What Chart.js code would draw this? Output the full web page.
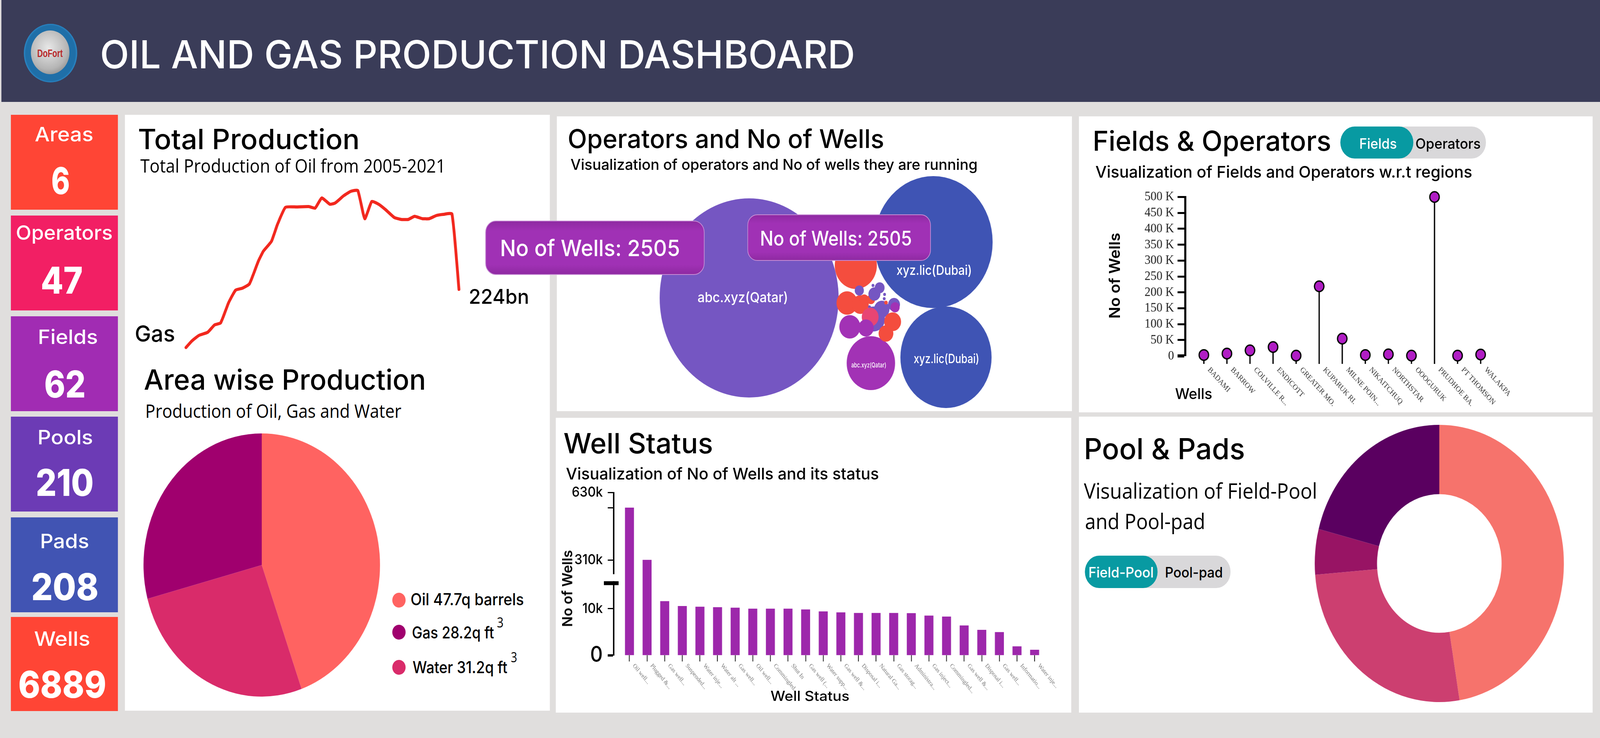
<!DOCTYPE html>
<html><head><meta charset="utf-8"><title>Oil and Gas Production Dashboard</title>
<script src="https://cdn.jsdelivr.net/npm/chart.js@4/dist/chart.umd.js"></script>
<style>
html,body{margin:0;padding:0;background:#e0dedd;width:100%;height:100%;overflow:hidden}
#stage{position:absolute;left:0;top:0;width:4560px;height:1890px;transform-origin:0 0;background:#e0dedd;overflow:hidden}
.box,canvas,.t{position:absolute;display:block}
.t{white-space:pre;line-height:1;transform-origin:0 50%}
</style></head><body><div id="stage"></div>
<script>
// ---------- DATA ----------
const productionYears=[2005,2005.35,2005.76,2006.27,2006.68,2007.03,2007.5,2007.91,2008.31,2008.72,2009.24,2009.54,2010.01,2010.36,2010.83,2011.49,2012.2,2012.57,2012.96,2013.43,2013.74,2014.25,2014.66,2015.07,2015.48,2015.89,2016.29,2016.7,2017.21,2017.62,2018.03,2018.4,2018.85,2019.26,2019.67,2020.08,2020.59,2021];
const productionValues=[75,92,106,114,133,138,190,222,227,238,296,322,347,390,434,435,436,432,458,442,445,464,475,477,405,449,442,428,408,403,403,411,405,405,413,416,417,224];
const areaLabels=['Oil','Water','Gas'];
const areaValues=[47.7,28.2,31.2];
const areaColors=['#ff6361','#d92b6a','#a0006e'];
const bubbleNames=['abc.xyz(Qatar)','xyz.lic(Dubai)','xyz.lic(Dubai)','abc.xyz(Qatar)'];
const bubbleX=[548,1073,1109,895,852,827,865,876,895,862,905,920,901,934,933,926,961,964,938,903,891,893,835,881,957,938];
const bubbleY=[290,433,138,123,373,277,273,286,286,309,300,316,322,299,288,261,273,266,278,236,267,241,216,213,229,199];
const bubbleR=[255,169,130,69,60,30,24,13,12,13,17,14,4,4,4,22,17,13,5,32,4,24,30,22,24,21];
const bubbleGroup=[0,1,1,2,3,3,3,3,3,0,0,0,0,0,0,0,0,2,3,0,0,4,2,2,3,3];
const bubbleColors=['#7556c2','#3f54b4','#a232b5','#f44d3e','#e84573'];
const fieldNames=['BADAMI','BARROW','COLVILLE R...','ENDICOTT','GREATER MO.','KUPARUK RI.','MILNE POIN...','NIKAITCHUQ','NORTHSTAR','OOOGURUK','PRUDHOE BA.','PT THOMSON','WALAKPA'];
const fieldWells=[3000,7500,17500,28000,1000,219000,54500,3000,5000,1000,500000,1000,4500];
const fieldTicks=[0,50000,100000,150000,200000,250000,300000,350000,400000,450000,500000];
const statusNames=['Oil well...','Plugged &...','Gas well...','Suspended...','Water inje...','Water alt ...','Gas well...','Oil well...','Commingled...','Shut In','Gas well (...','Water supp...','Gas well &...','Disposal i...','Natural Ga...','Gas storag...','Administra...','Gas inject...','Commingled...','Gas well &...','Disposal i...','Gas well...','Informatio...','Water inje...'];
const statusWells=[558000,310000,11600,10550,10400,10300,10200,10000,10000,10000,9830,9400,9190,9060,9060,9060,9020,8500,8290,6370,5430,4960,1880,1150];
const statusTicks=[0,10000,310000,558000,630000];
const statusTickLabels=['0','10k','310k','','630k'];
const poolShares=[47.4,26.3,5.3,21.0];
const poolColors=['#f6736c','#cc3f70','#981464','#5a0060'];

// ---------- PAGE HELPERS ----------
const stage=document.getElementById('stage');
stage.style.transform=`scale(${innerWidth/4560},${innerHeight/1890})`;
const SANS='Inter', OPEN='"Open Sans"', SERIF='"Liberation Serif"';
const mctx=document.createElement('canvas').getContext('2d');
function box(l,t,w,h,css){const d=document.createElement('div');d.className='box';
  d.style.cssText=`left:${l}px;top:${t}px;width:${w}px;height:${h}px;${css||''}`;stage.appendChild(d);return d;}
function T(s,left,base,size,weight,fam,color,width,z){
  const e=document.createElement('span');e.className='t';e.textContent=s;
  const font=`${weight} ${size}px ${fam}`;mctx.font=font;const m=mctx.measureText(s);
  const asc=m.fontBoundingBoxAscent,desc=m.fontBoundingBoxDescent;
  const top=base-((size-(asc+desc))/2+asc);
  e.style.cssText=`left:${left}px;top:${top}px;font:${font};line-height:${size}px;color:${color};z-index:${z||5};`+(width?`transform:scaleX(${width/m.width});`:'');
  stage.appendChild(e);return e;}
function V(s,cx,cy,size,weight,fam,color,len){
  const e=document.createElement('span');e.className='t';e.textContent=s;
  const font=`${weight} ${size}px ${fam}`;mctx.font=font;const w=mctx.measureText(s).width;
  e.style.cssText=`left:${cx}px;top:${cy}px;font:${font};line-height:${size}px;color:${color};z-index:5;transform-origin:0 0;transform:rotate(-90deg) scaleX(${len/w}) translate(${-w/2}px,${-size/2}px);`;
  stage.appendChild(e);}
function C(l,t,w,h){const c=document.createElement('canvas');c.width=w;c.height=h;
  c.style.cssText=`left:${l}px;top:${t}px;width:${w}px;height:${h}px;z-index:2`;stage.appendChild(c);return c.getContext('2d');}
Chart.defaults.animation=false;
Chart.defaults.responsive=false;
Chart.defaults.devicePixelRatio=1;
Chart.defaults.events=[];
Chart.defaults.plugins.legend.display=false;
Chart.defaults.plugins.tooltip.enabled=false;
function fixY(w){return s=>{s.width=w;s.paddingTop=0;s.paddingBottom=0;};}
function fixX(h){return s=>{s.height=h;s.paddingLeft=0;s.paddingRight=0;};}
function leftAlignRotated(s){s._getXAxisLabelAlignment=()=>'left';}

// ---------- STATIC LAYOUT ----------
box(4,0,4556,261,'background:#3a3c58');
[[31,294,243,'#ff4535'],[31,552,243,'#f21f64'],[31,810,243,'#a12cb3'],[31,1067,243,'#6c3bb5'],[31,1325,243,'#4154b3'],[31,1580,241,'#ff4535']]
  .forEach(r=>box(r[0],r[1],305,r[2],'background:'+r[3]));
[[356,294,1211,1526],[1587,298,1468,755],[3075,298,1464,758],[1584,1070,1469,755],[3075,1067,1464,758]]
  .forEach(r=>box(r[0],r[1],r[2],r[3],'background:#fff'));
// logo
box(68,61,152,150,'border-radius:50%;background:radial-gradient(circle at 50% 50%,#1f6fa8 0 66%,#2f8fd0 72%,#3fa9e4 100%)');
box(88,78,110,112,'border-radius:50%;background:radial-gradient(circle at 45% 40%,#e8e8e8 0,#b5b5b5 60%,#6f6f6f 100%)');
T('DoFort',106,146,27,700,'"Liberation Sans"','#b8282a',73);
// header
T('OIL AND GAS PRODUCTION DASHBOARD',285,175,99,500,SANS,'#fff',2152);
// KPIs
[['Areas',99,362,167],['Operators',45,614,276],['Fields',108,881,171],['Pools',107,1138,158],['Pads',114,1404,140],['Wells',97,1654,160]]
  .forEach(k=>T(k[0],k[1],k[2],51,500,SANS,'#fff',k[3]));
[['6',146,497,53],['47',116,752,120],['62',126,1018,118],['210',102,1270,165],['208',89,1537,192],['6889',52,1787,251]]
  .forEach(k=>T(k[0],k[1],k[2],95,800,SANS,'#fff',k[3]));
// Titles
T('Total Production',393,382,71,500,SANS,'#000',632);
T('Total Production of Oil from 2005-2021',400,442,48,400,OPEN,'#000',870);
T('Gas',384,875,58,500,SANS,'#000',115);
T('224bn',1336,778,52,500,SANS,'#000',172);
T('Area wise Production',410,998,72,500,SANS,'#000',804);
T('Production of Oil, Gas and Water',414,1070,48,400,OPEN,'#000',730);
T('Oil 47.7q barrels',1170,1550,42,500,SANS,'#000',323);
T('Gas 28.2q ft',1174,1635,42,500,SANS,'#000',234);
T('3',1416,1607,36,400,OPEN,'#000',19);
T('Water 31.2q ft',1176,1724,42,500,SANS,'#000',270);
T('3',1456,1696,36,400,OPEN,'#000',18);
box(1118,1518,38,38,'border-radius:50%;background:#ff6361;z-index:3');
box(1118,1600,38,38,'border-radius:50%;background:#a0006e;z-index:3');
box(1118,1690,38,38,'border-radius:50%;background:#d92b6a;z-index:3');
T('Operators and No of Wells',1618,379,66,500,SANS,'#000',902);
T('Visualization of operators and No of wells they are running',1626,435,38,500,SANS,'#000',1160);
T(bubbleNames[0],1988,774,36,500,SANS,'#fff',258);
T(bubbleNames[1],2555,704,34,500,SANS,'#fff',215);
T(bubbleNames[2],2604,930,32,500,SANS,'#fff',187);
T(bubbleNames[3],2426,941,17,500,SANS,'#fff',100);
T('Fields & Operators',3114,386,70,500,SANS,'#000',680);
T('Visualization of Fields and Operators w.r.t regions',3122,455,41,500,SANS,'#000',1074);
box(3820,324,415,82,'background:#d9d8da;border-radius:41px');
box(3820,324,208,82,'background:#089aa2;border-radius:41px;z-index:1');
T('Fields',3874,381,37,500,SANS,'#fff',107);
T('Operators',4034,381,37,500,SANS,'#000',186);
V('No of Wells',3176,706,43,600,SANS,'#000',220);
T('Wells',3349,1022,38,500,SANS,'#000',106);
T('Well Status',1606,1161,72,500,SANS,'#000',426);
T('Visualization of No of Wells and its status',1613,1228,41,500,SANS,'#000',892);
V('No of Wells',1617,1507,40,600,SANS,'#000',197);
T('Well Status',2196,1795,35,500,SANS,'#000',225);
T('Pool & Pads',3089,1176,74,500,SANS,'#000',459);
T('Visualization of Field-Pool',3089,1277,54,400,OPEN,'#000',665);
T('and Pool-pad',3092,1355,54,400,OPEN,'#000',343);
box(3092,1423,415,83,'background:#d9d8da;border-radius:41px');
box(3092,1423,207,83,'background:#089aa2;border-radius:41px;z-index:1');
T('Field-Pool',3102,1479,37,500,SANS,'#fff',186);
T('Pool-pad',3320,1479,37,500,SANS,'#000',165);
// Tooltips
const tipBg='background:linear-gradient(180deg,#8f2aa2 0,#a031b5 18%,#a031b5 82%,#8f2aa2 100%);border:2px solid #c68cd4;box-sizing:border-box;z-index:6;';
box(1383,565,625,139,tipBg+'border-radius:30px');
box(2130,549,523,119,tipBg+'border-radius:28px');
T('No of Wells: 2505',1425,656,58,500,SANS,'#fff',513,7);
T('No of Wells: 2505',2166,629,52,500,SANS,'#fff',433,7);

// ---------- CHARTS ----------
// Total production line
new Chart(C(520,455,798,460),{type:'line',
  data:{datasets:[{data:productionYears.map((y,i)=>({x:y,y:productionValues[i]})),borderColor:'#f2281e',borderWidth:8,pointRadius:0,tension:0.15,clip:false,borderJoinStyle:'round',borderCapStyle:'round'}]},
  options:{layout:{padding:10},scales:{x:{type:'linear',display:false,min:2005,max:2021},y:{display:false,min:60,max:500}}}});
// Area pie
new Chart(C(409,1110,674,674),{type:'pie',
  data:{labels:areaLabels,datasets:[{data:areaValues,backgroundColor:areaColors,borderWidth:0}]},options:{}});
// Operators bubble: no inset of the plot by the largest radius, so the axes fill the whole panel
class PackedBubble extends Chart.BubbleController{getMaxOverflow(){return 0;}}
PackedBubble.id='packedBubble';
Chart.register(PackedBubble);
new Chart(C(1587,298,1468,755),{type:'packedBubble',
  data:{datasets:[{data:bubbleX.map((x,i)=>({x:x,y:bubbleY[i],r:bubbleR[i]})),backgroundColor:bubbleGroup.map(g=>bubbleColors[g]),borderWidth:0,clip:false}]},
  options:{scales:{x:{type:'linear',display:false,min:0,max:1468},y:{type:'linear',display:false,min:0,max:755}}}});
// Fields lollipop
const fieldXY=fieldWells.map((v,i)=>({x:i,y:v}));
new Chart(C(3075,298,1464,758),{
  data:{datasets:[
    {type:'line',data:fieldXY,showLine:false,order:0,clip:false,pointStyle:'circle',pointRadius:13.5,pointBackgroundColor:'#b01dc4',pointBorderColor:'#000',pointBorderWidth:3.5},
    {type:'bar',data:fieldXY,order:1,base:-24500,clip:false,backgroundColor:'#000',barThickness:3,borderWidth:0}]},
  options:{layout:{padding:{top:206.5,right:239}},scales:{
    x:{type:'linear',min:-0.806,max:13.22,offset:false,afterDataLimits:leftAlignRotated,afterFit:fixX(144.4),
       afterBuildTicks:s=>{s.ticks=fieldNames.map((n,i)=>({value:i}));},
       grid:{display:false,drawTicks:false,offset:false},border:{display:false},
       ticks:{autoSkip:false,minRotation:-45,maxRotation:-45,labelOffset:14,padding:24,color:'#333',font:{family:'Liberation Serif',size:20},callback:v=>fieldNames[v]}},
    y:{type:'linear',min:0,max:500000,afterFit:fixY(303),
       afterBuildTicks:s=>{s.ticks=fieldTicks.map(v=>({value:v}));},
       grid:{drawOnChartArea:false,tickLength:22,tickColor:'#000',tickWidth:c=>c.tick&&c.tick.value===0?8:5},
       border:{display:true,color:'#000',width:6},
       ticks:{autoSkip:false,padding:10,color:'#222',font:{family:'Liberation Serif',size:34},callback:v=>v===0?'0':(v/1000)+' K'}}}}});
// Well status, with broken y axis
const stopValues=[0,15500,200000,630000], stopFrac=[0,0.443,0.443,1];
class BrokenScale extends Chart.LinearScale{
  getPixelForValue(v){
    let i=1;while(i<stopValues.length-1&&v>stopValues[i])i++;
    const a=stopValues[i-1],b=stopValues[i];
    const f=stopFrac[i-1]+(Math.max(0,Math.min(1,(v-a)/(b-a))))*(stopFrac[i]-stopFrac[i-1]);
    return this.bottom-f*(this.bottom-this.top);
  }
}
BrokenScale.id='broken';
Chart.register(BrokenScale);
const axisBreak={id:'axisBreak',afterDraw(ch){
  const ctx=ch.ctx,s=ch.scales.y,y=s.getPixelForValue(stopValues[1]),x=ch.chartArea.left;
  ctx.save();ctx.fillStyle='#fff';ctx.fillRect(x-8,y-23,14,18);
  ctx.fillStyle='#000';ctx.fillRect(x-28,y-5,42,10);ctx.restore();}};
new Chart(C(1584,1070,1469,755),{type:'bar',plugins:[axisBreak],
  data:{datasets:[{data:statusWells.map((v,i)=>({x:i,y:v})),backgroundColor:'#9d27ab',barThickness:25,borderWidth:0}]},
  options:{layout:{padding:{top:191.5,right:13}},scales:{
    x:{type:'linear',min:-0.896,max:24.82,offset:false,afterDataLimits:leftAlignRotated,afterFit:fixX(147),
       afterBuildTicks:s=>{s.ticks=statusNames.map((n,i)=>({value:i}));},
       grid:{drawOnChartArea:false,offset:false,tickLength:16,tickColor:'#000',tickWidth:2},border:{display:false},
       ticks:{autoSkip:false,minRotation:-48,maxRotation:-48,labelOffset:12,padding:2,color:'#777',font:{family:'Liberation Serif',size:16},callback:v=>statusNames[v]}},
    y:{type:'broken',min:0,max:630000,afterFit:fixY(165),
       afterBuildTicks:s=>{s.ticks=statusTicks.map(v=>({value:v}));},
       grid:{drawOnChartArea:false,tickLength:17,tickColor:'#000',tickWidth:c=>c.tick&&c.tick.value===0?6:3},
       border:{display:true,color:'#000',width:4},
       ticks:{autoSkip:false,padding:14,color:'#000',font:c=>({family:'Inter',weight:500,size:c.tick&&c.tick.value===0?56:36}),callback:v=>statusTickLabels[statusTicks.indexOf(v)]}}}}});
// Pool donut
new Chart(C(3747,1088,710,710),{type:'doughnut',
  data:{datasets:[{data:poolShares,backgroundColor:poolColors,borderWidth:0}]},options:{cutout:'50%'}});
</script></body></html>
